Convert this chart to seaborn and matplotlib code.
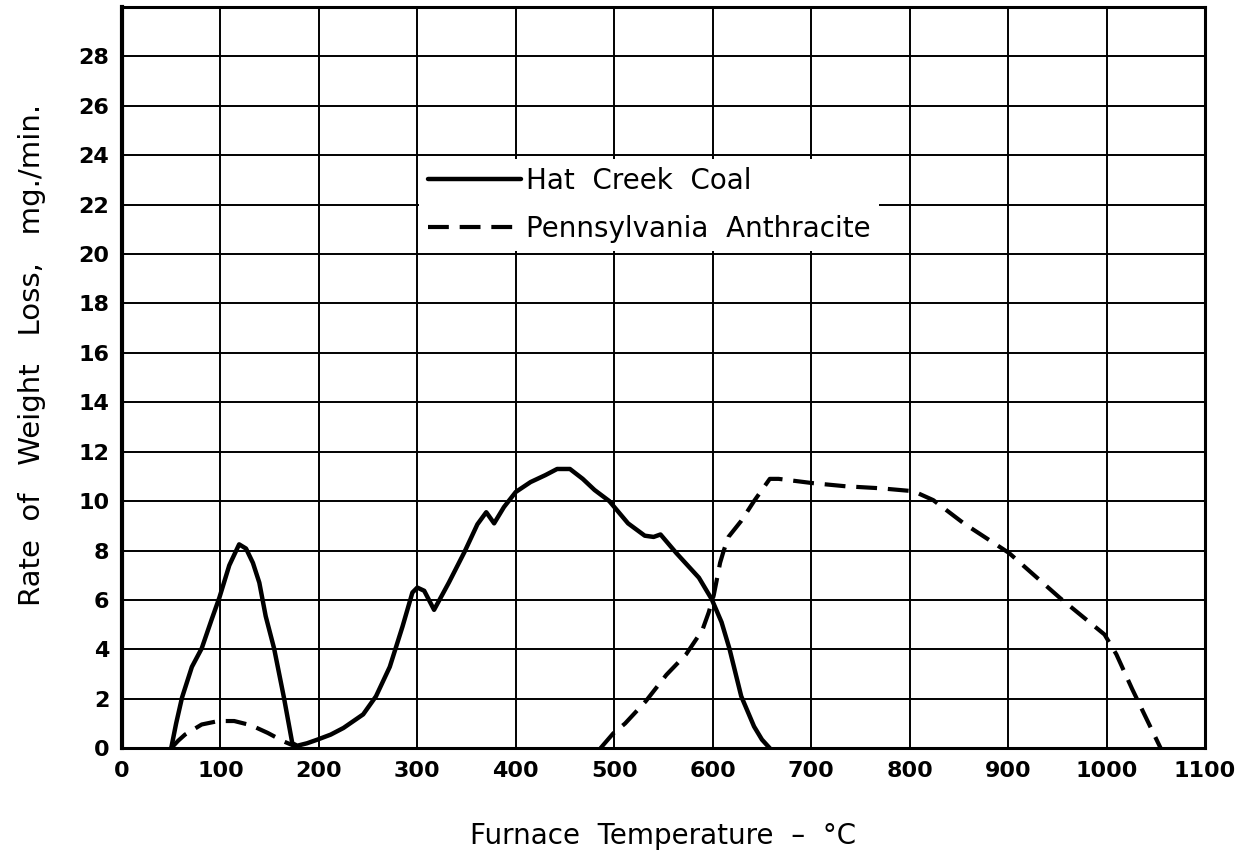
import seaborn as sns
import pandas as pd
import matplotlib.pyplot as plt

# values (furnace temperature in deg C, rate in mg/min)
hat_creek_x = [50, 55, 61, 71, 81, 91, 99, 109, 119, 126, 133, 139.5, 146, 154.5, 164.5, 173, 178,
               188, 198, 212, 225, 245, 258, 272, 285, 295, 300, 307, 317, 332, 348, 361, 370, 378,
               388, 400, 415, 430, 442, 455, 468, 480, 495, 514, 531, 540, 547, 563, 586, 599,
               609, 617, 629, 642, 650, 658]
hat_creek_y = [0, 1.0, 2.05, 3.29, 4.04, 5.2, 6.1, 7.4, 8.25, 8.08, 7.5, 6.7, 5.34, 4.04, 2.05, 0.2, 0.1,
               0.2, 0.34, 0.55, 0.82, 1.37, 2.1, 3.29, 4.93, 6.3, 6.5, 6.37, 5.6, 6.7, 7.95, 9.06, 9.55, 9.1,
               9.76, 10.37, 10.77, 11.05, 11.3, 11.3, 10.9, 10.45, 10.0, 9.1, 8.6, 8.55, 8.65, 7.9, 6.9, 6.03,
               5.1, 4.03, 2.1, 0.88, 0.35, 0]

anthracite_low_x = [50, 57, 64, 81, 98, 114, 131, 148, 164.5, 174.6, 178]
anthracite_low_y = [0, 0.3, 0.55, 0.96, 1.1, 1.1, 0.93, 0.62, 0.27, 0.1, 0]

anthracite_high_x = [486, 499, 511, 532, 553, 573, 589.5, 596, 601, 604, 607.5, 611, 616, 629, 642,
                     658, 667, 701, 735, 770, 804, 824, 855, 901, 953, 998, 1010, 1026, 1055]
anthracite_high_y = [0, 0.6, 1.0, 1.9, 2.97, 3.8, 4.78, 5.5, 6.18, 6.78, 7.5, 7.97, 8.55, 9.2, 10.0,
                     10.9, 10.9, 10.73, 10.6, 10.52, 10.4, 10.04, 9.1, 7.9, 6.07, 4.6, 3.8, 2.4, 0]

x_ticks = list(range(0, 1101, 100))
y_ticks = list(range(0, 29, 2))

hc = pd.DataFrame({'temp': hat_creek_x, 'rate': hat_creek_y})
pa_low = pd.DataFrame({'temp': anthracite_low_x, 'rate': anthracite_low_y})
pa_high = pd.DataFrame({'temp': anthracite_high_x, 'rate': anthracite_high_y})

sns.set_theme(style='white')
plt.rcParams['font.family'] = ['DejaVu Sans']
plt.rcParams['text.color'] = 'black'
plt.rcParams['axes.labelcolor'] = 'black'
plt.rcParams['xtick.color'] = 'black'
plt.rcParams['ytick.color'] = 'black'

fig = plt.figure(figsize=(12.37, 8.61), dpi=100)
ax = fig.add_axes([0.0986, 0.131, 0.8755, 0.861])

dash = (0, (5, 2.6))
sns.lineplot(data=hc, x='temp', y='rate', sort=False, color='black', lw=3.2,
             label='Hat  Creek  Coal', ax=ax)
sns.lineplot(data=pa_low, x='temp', y='rate', sort=False, color='black', lw=3,
             linestyle=dash, label='Pennsylvania  Anthracite', ax=ax)
sns.lineplot(data=pa_high, x='temp', y='rate', sort=False, color='black', lw=3,
             linestyle=dash, label='_nolegend_', ax=ax)

ax.set_xlim(0, 1100)
ax.set_ylim(0, 30)
ax.set_xticks(x_ticks)
ax.set_yticks(y_ticks)
ax.set_xticklabels([str(v) for v in x_ticks], fontsize=16, fontweight='bold')
ax.set_yticklabels([str(v) for v in y_ticks], fontsize=16, fontweight='bold')
ax.tick_params(length=0, pad=9)
ax.grid(True, color='black', lw=1.4)
ax.set_axisbelow(True)
for s in ax.spines.values():
    s.set_color('black')
    s.set_linewidth(2.2)
ax.spines['left'].set_linewidth(3)

ax.set_xlabel('Furnace  Temperature  \u2013  \u00b0C', fontsize=20, labelpad=30)
ax.set_ylabel('Rate  of   Weight   Loss,   mg./min.', fontsize=21, labelpad=14)
ax.yaxis.set_label_coords(-0.07, 0.53)

leg = ax.legend(loc='upper left', bbox_to_anchor=(302, 23.85), bbox_transform=ax.transData,
                fontsize=20, handlelength=3.35, handletextpad=0.2, labelspacing=0.7,
                borderpad=0.3, borderaxespad=0, frameon=True, fancybox=False, framealpha=1)
leg.get_frame().set_facecolor('white')
leg.get_frame().set_edgecolor('none')

fig.savefig('out.png', dpi=100)
